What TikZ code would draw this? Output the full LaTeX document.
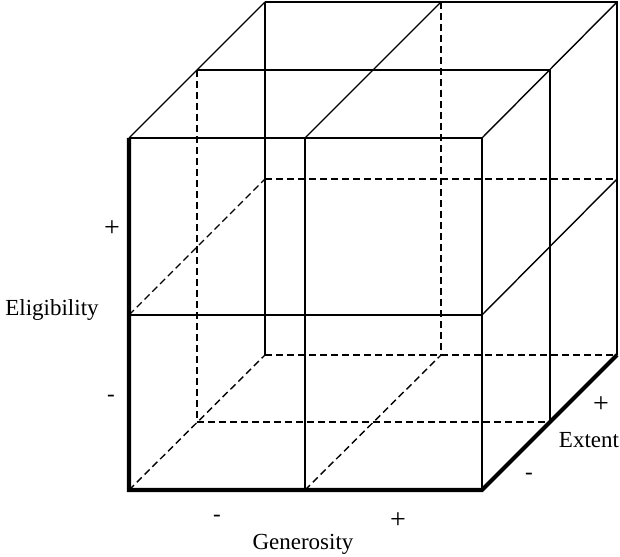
\documentclass[tikz,border=0pt]{standalone}
\usepackage{fontspec}
\setmainfont{Liberation Serif}
\begin{document}
\begin{tikzpicture}[x=1pt,y=-1pt,
  edge/.style={draw=black,line width=1.4pt},
  hidden/.style={draw=black,line width=1.4pt,dash pattern=on 7pt off 4pt},
  axis/.style={draw=black,line width=4.2pt},
  lbl/.style={font=\fontsize{23}{27}\selectfont,inner sep=0pt,text=black},
  sign/.style={font=\fontsize{28}{32}\selectfont,inner sep=0pt,text=black}]
\useasboundingbox (0,0) rectangle (620,556);
% front face
\coordinate (f11) at (129,138); \coordinate (f12) at (305,138); \coordinate (f13) at (482,138);
\coordinate (f21) at (129,315); \coordinate (f22) at (305,315); \coordinate (f23) at (482,315);
\coordinate (f31) at (129,490); \coordinate (f32) at (305,490); \coordinate (f33) at (482,490);
% middle layer
\coordinate (m11) at (197,70); \coordinate (m13) at (550,70);
\coordinate (m31) at (197,422); \coordinate (m33) at (550,422);
% back face
\coordinate (b11) at (265,2); \coordinate (b12) at (441,2); \coordinate (b13) at (617,2);
\coordinate (b21) at (265,179); \coordinate (b22) at (441,179); \coordinate (b23) at (617,179);
\coordinate (b31) at (265,355); \coordinate (b32) at (441,355); \coordinate (b33) at (617,355);
% hidden lines
\path[hidden] (b21) -- (b23);
\path[hidden] (b31) -- (b33);
\path[hidden] (b12) -- (b32);
\path[hidden] (m11) -- (m31);
\path[hidden] (m31) -- (m33);
\path[hidden] (f21) -- (b21);
\path[hidden] (f31) -- (b31);
\path[hidden] (f32) -- (b32);
% visible lines
\path[edge] (f11) -- (f13) -- (f33);
\path[edge] (f12) -- (f32);
\path[edge] (f21) -- (f23);
\path[edge] (f11) -- (b11);
\path[edge] (f12) -- (b12);
\path[edge] (f13) -- (b13);
\path[edge] (f23) -- (b23);
\path[edge] (b11) -- (b13) -- (b33);
\path[edge] (b11) -- (b31);
\path[edge] (m11) -- (m13) -- (m33);
% axes
\path[axis] (f11) -- (f31) -- (f33) -- (b33);
% labels
\node[sign] (eplus) at (112,229) {+};
\node[lbl] (elig) at (52,310) {Eligibility};
\node[lbl] (eminus) at (111,398) {-};
\node[lbl] (gminus) at (217,518) {-};
\node[lbl] (gen) at (303,544) {Generosity};
\node[sign] (gplus) at (398,521) {+};
\node[sign] (xplus) at (601,405) {+};
\node[lbl] (ext) at (589,440) {Extent};
\node[lbl] (xminus) at (529,476) {-};
\end{tikzpicture}
\end{document}
